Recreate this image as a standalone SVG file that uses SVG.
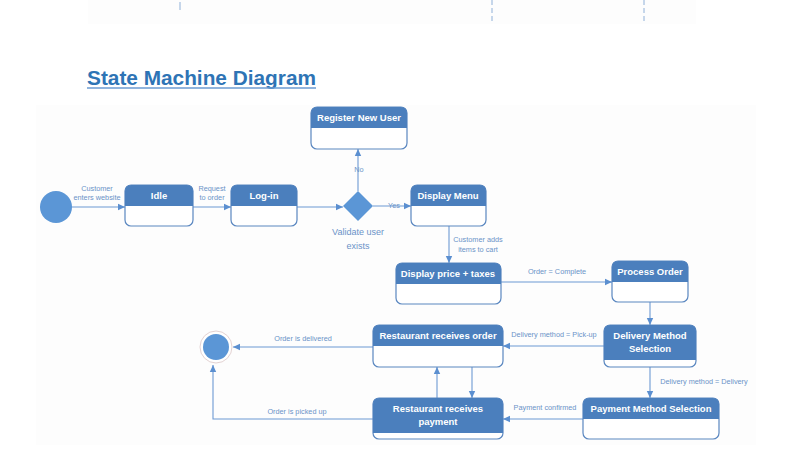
<svg xmlns="http://www.w3.org/2000/svg" width="789" height="467" viewBox="0 0 789 467">
<defs>
<marker id="arr" markerWidth="8" markerHeight="8" refX="7" refY="4" orient="auto" markerUnits="userSpaceOnUse">
<path d="M0,0.8 L7,4 L0,7.2 Z" fill="#5b8fd0"/>
</marker>
</defs>
<style>
.panel{fill:#fdfdfd}
.box{fill:#ffffff;stroke:#5a87c0;stroke-width:1.2}
.hdr{fill:#4b7fbd}
.nt{font-family:"Liberation Sans",Arial,sans-serif;font-weight:bold;font-size:9.5px;fill:#ffffff;text-anchor:middle}
.ln{fill:none;stroke:#6d9ad4;stroke-width:1.1}
.lbl{font-family:"Liberation Sans",Arial,sans-serif;font-size:7.3px;fill:#6b93c8;text-anchor:middle}
.title{font-family:"Liberation Sans",Arial,sans-serif;font-weight:bold;font-size:21px;fill:#2e74b5}
</style>
<rect width="789" height="467" fill="#ffffff"/>
<rect class="panel" x="88" y="0" width="608" height="24"/>
<rect class="panel" x="36" y="105" width="720" height="340"/>
<line x1="180" y1="2" x2="180" y2="10" stroke="#8fb0d8" stroke-width="1"/>
<line x1="492" y1="0" x2="492" y2="24" stroke="#8fb0d8" stroke-width="1" stroke-dasharray="5,3"/>
<line x1="644" y1="0" x2="644" y2="23" stroke="#8fb0d8" stroke-width="1" stroke-dasharray="5,3"/>
<text class="title" x="87" y="85" textLength="229" lengthAdjust="spacingAndGlyphs">State Machine Diagram</text>
<line x1="87" y1="88" x2="316" y2="88" stroke="#6b9bd2" stroke-width="1.5"/>

<g id="connectors">
<line class="ln" x1="72" y1="207" x2="125" y2="207" marker-end="url(#arr)"/>
<line class="ln" x1="193" y1="207" x2="231" y2="207" marker-end="url(#arr)"/>
<line class="ln" x1="297" y1="207" x2="343" y2="207" marker-end="url(#arr)"/>
<line class="ln" x1="358" y1="191" x2="358" y2="149" marker-end="url(#arr)"/>
<line class="ln" x1="373" y1="206" x2="411" y2="206" marker-end="url(#arr)"/>
<line class="ln" x1="449" y1="226" x2="449" y2="263" marker-end="url(#arr)"/>
<line class="ln" x1="501" y1="282" x2="612" y2="282" marker-end="url(#arr)"/>
<line class="ln" x1="650" y1="302" x2="650" y2="325" marker-end="url(#arr)"/>
<line class="ln" x1="604" y1="346" x2="503" y2="346" marker-end="url(#arr)"/>
<line class="ln" x1="650" y1="367" x2="650" y2="398" marker-end="url(#arr)"/>
<line class="ln" x1="583" y1="419" x2="503" y2="419" marker-end="url(#arr)"/>
<line class="ln" x1="373" y1="347" x2="233" y2="347" marker-end="url(#arr)"/>
<polyline class="ln" points="373,419 213,419 213,365" marker-end="url(#arr)"/>
<line class="ln" x1="437" y1="398" x2="437" y2="367" marker-end="url(#arr)"/>
<line class="ln" x1="472" y1="367" x2="472" y2="398" marker-end="url(#arr)"/>
<text class="lbl" x="97" y="191">Customer</text>
<text class="lbl" x="97" y="200">enters website</text>
<text class="lbl" x="212" y="191">Request</text>
<text class="lbl" x="212" y="200">to order</text>
<text class="lbl" x="359" y="172">No</text>
<text class="lbl" x="394" y="208">Yes</text>
<text class="lbl" x="478" y="242">Customer adds</text>
<text class="lbl" x="478" y="252">items to cart</text>
<text class="lbl" x="557" y="274">Order = Complete</text>
<text class="lbl" x="554" y="337">Delivery method = Pick-up</text>
<text class="lbl" x="704" y="384">Delivery method = Delivery</text>
<text class="lbl" x="545" y="410">Payment confirmed</text>
<text class="lbl" x="303" y="341">Order is delivered</text>
<text class="lbl" x="297" y="414">Order is picked up</text>
</g>

<g id="initial">
<circle cx="56" cy="207" r="16" fill="#5b96d6"/>
</g>

<g id="final">
<circle cx="216" cy="347" r="16" fill="#ffffff" stroke="#e3d2d2" stroke-width="1"/>
<circle cx="216" cy="347" r="13" fill="#5b96d6"/>
</g>

<g id="idle">
<rect class="box" x="125" y="185" width="68" height="41" rx="6"/>
<path class="hdr" d="M125,206 V191 a6,6 0 0 1 6,-6 H187 a6,6 0 0 1 6,6 V206 Z"/>
<text class="nt" x="159" y="199">Idle</text>
</g>

<g id="login">
<rect class="box" x="231" y="185" width="66" height="41" rx="6"/>
<path class="hdr" d="M231,206 V191 a6,6 0 0 1 6,-6 H291 a6,6 0 0 1 6,6 V206 Z"/>
<text class="nt" x="264" y="199">Log-in</text>
</g>

<g id="register">
<rect class="box" x="311" y="107" width="96" height="42" rx="6"/>
<path class="hdr" d="M311,128 V113 a6,6 0 0 1 6,-6 H401 a6,6 0 0 1 6,6 V128 Z"/>
<text class="nt" x="359" y="121">Register New User</text>
</g>

<g id="validate">
<polygon points="358,191 373,206 358,221 343,206" fill="#5b96d6"/>
<text class="lbl" x="358" y="235" style="font-size:9px">Validate user</text>
<text class="lbl" x="358" y="249" style="font-size:9px">exists</text>
</g>

<g id="display-menu">
<rect class="box" x="411" y="185" width="75" height="41" rx="6"/>
<path class="hdr" d="M411,206 V191 a6,6 0 0 1 6,-6 H480 a6,6 0 0 1 6,6 V206 Z"/>
<text class="nt" x="448" y="199">Display Menu</text>
</g>

<g id="display-price">
<rect class="box" x="396" y="263" width="105" height="41" rx="6"/>
<path class="hdr" d="M396,284 V269 a6,6 0 0 1 6,-6 H495 a6,6 0 0 1 6,6 V284 Z"/>
<text class="nt" x="448" y="277">Display price + taxes</text>
</g>

<g id="process-order">
<rect class="box" x="612" y="261" width="76" height="41" rx="6"/>
<path class="hdr" d="M612,282 V267 a6,6 0 0 1 6,-6 H682 a6,6 0 0 1 6,6 V282 Z"/>
<text class="nt" x="650" y="275">Process Order</text>
</g>

<g id="delivery-method">
<rect class="box" x="604" y="325" width="92" height="42" rx="6"/>
<path class="hdr" d="M604,360 V331 a6,6 0 0 1 6,-6 H690 a6,6 0 0 1 6,6 V360 Z"/>
<text class="nt" x="650" y="339">Delivery Method</text>
<text class="nt" x="650" y="352">Selection</text>
</g>

<g id="restaurant-order">
<rect class="box" x="373" y="325" width="130" height="42" rx="6"/>
<path class="hdr" d="M373,346 V331 a6,6 0 0 1 6,-6 H497 a6,6 0 0 1 6,6 V346 Z"/>
<text class="nt" x="438" y="339">Restaurant receives order</text>
</g>

<g id="restaurant-payment">
<rect class="box" x="373" y="398" width="130" height="41" rx="6"/>
<path class="hdr" d="M373,433 V404 a6,6 0 0 1 6,-6 H497 a6,6 0 0 1 6,6 V433 Z"/>
<text class="nt" x="438" y="412">Restaurant receives</text>
<text class="nt" x="438" y="425">payment</text>
</g>

<g id="payment-method">
<rect class="box" x="583" y="398" width="136" height="41" rx="6"/>
<path class="hdr" d="M583,419 V404 a6,6 0 0 1 6,-6 H713 a6,6 0 0 1 6,6 V419 Z"/>
<text class="nt" x="651" y="412">Payment Method Selection</text>
</g>
</svg>
